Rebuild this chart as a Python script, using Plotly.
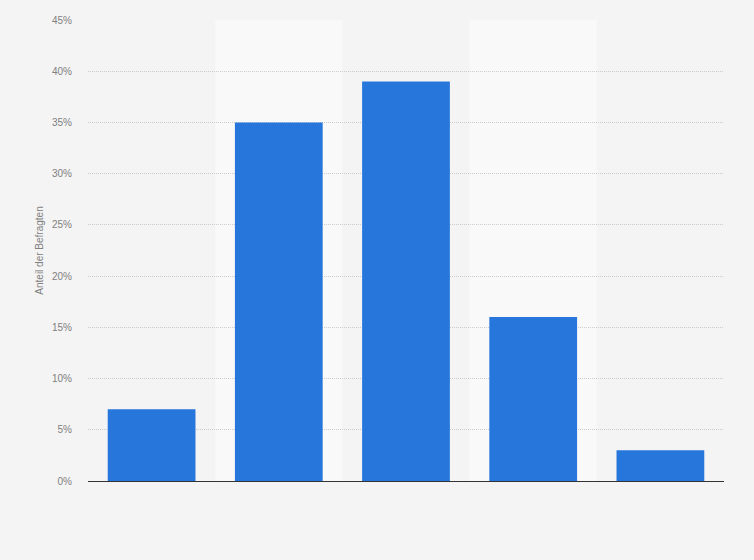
import plotly.graph_objects as go

# Werte (Anteil der Befragten in %)
categories = ["Kategorie 1", "Kategorie 2", "Kategorie 3", "Kategorie 4", "Kategorie 5"]
shares = [7, 35, 39, 16, 3]
y_ticks = [0, 5, 10, 15, 20, 25, 30, 35, 40, 45]
y_tick_labels = [f"{v}%" for v in y_ticks]

fig = go.Figure()

fig.add_trace(go.Bar(
    x=categories,
    y=shares,
    marker=dict(color="#2776dc", line=dict(width=0)),
    width=0.69,
    hovertemplate="%{y}%<extra></extra>",
))

# helle Hintergrundstreifen hinter jeder zweiten Kategorie
shapes = []
for i in range(1, len(categories), 2):
    shapes.append(dict(
        type="rect", xref="x", yref="paper",
        x0=i - 0.5, x1=i + 0.5, y0=0, y1=1,
        fillcolor="#f9f9f9", line=dict(width=0), layer="below",
    ))

fig.update_layout(
    width=754,
    height=560,
    paper_bgcolor="#f4f4f4",
    plot_bgcolor="#f4f4f4",
    margin=dict(l=88, r=30, t=20, b=79),
    font=dict(family="Liberation Sans, Arial, sans-serif", size=10, color="#808080"),
    showlegend=False,
    shapes=shapes,
    xaxis=dict(
        showticklabels=False,
        showgrid=False,
        zeroline=False,
        showline=True,
        linecolor="#333333",
        linewidth=1,
        range=[-0.5, 4.5],
    ),
    yaxis=dict(
        range=[0, 45],
        tickvals=y_ticks,
        ticktext=y_tick_labels,
        showgrid=True,
        gridcolor="#cccccc",
        griddash="1px,1px",
        gridwidth=1,
        zeroline=False,
        ticks="",
        ticklabelstandoff=15,
        title=dict(text="Anteil der Befragten", font=dict(size=10, color="#808080"), standoff=6),
    ),
)

# Seitenrand des Browsers entfernen, damit die Grafik bündig sitzt
fig.write_html(
    "out.html",
    config={"displayModeBar": False},
    post_script="document.body.style.margin='0';",
)
